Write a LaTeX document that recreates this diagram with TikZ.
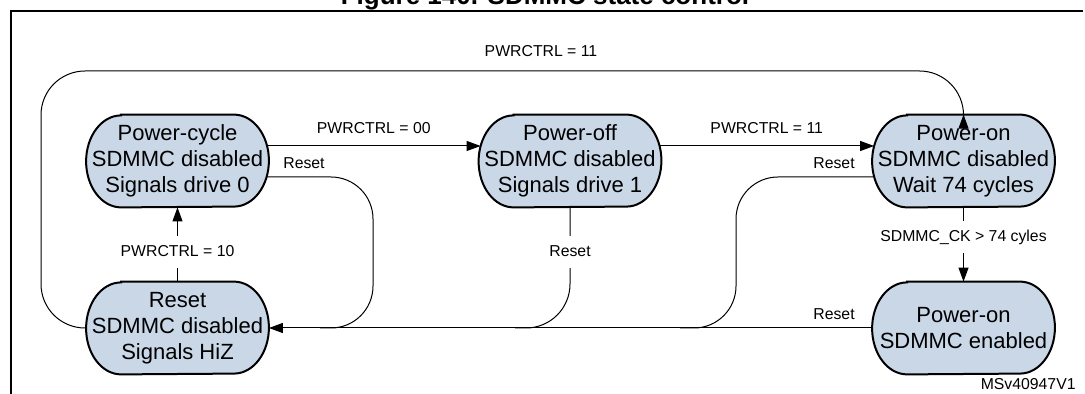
\documentclass[tikz,border=0pt]{standalone}
\usepackage{fontspec}
\setmainfont{Liberation Sans}
\usetikzlibrary{arrows.meta,backgrounds,calc}

\definecolor{statefill}{RGB}{201,215,231}

\tikzset{
  statebox/.style={minimum width=91pt, minimum height=46pt, inner sep=0pt,
    align=center, font=\fontsize{11}{13}\selectfont},
  stateline/.style={line width=1pt, fill=statefill},
  lbl/.style={font=\fontsize{7.9}{9}\selectfont, inner sep=1pt,
    text height=6pt, text depth=1.6pt},
  gaplbl/.style={lbl, fill=white, inner ysep=4pt},
  wire/.style={line width=0.5pt},
  trans/.style={wire, -{Triangle[length=7pt,width=5pt]}},
}

\begin{document}
\begin{tikzpicture}[x=0.5pt,y=-0.5pt]
\useasboundingbox (0,0) rectangle (1085,394);

% frame and caption
\draw[line width=1pt] (1083,11) -- (11,11) -- (11,394);
\node[anchor=base, font=\bfseries\fontsize{13}{15}\selectfont] (caption) at (545,5) {Figure 140. SDMMC state control};

% states
\node[statebox] (pcycle) at (177.5,161) {Power-cycle\\SDMMC disabled\\Signals drive 0};
\node[statebox] (poff) at (570,161) {Power-off\\SDMMC disabled\\Signals drive 1};
\node[statebox] (pon) at (963.5,161) {Power-on\\SDMMC disabled\\Wait 74 cycles};
\node[statebox] (rst) at (177.5,328) {Reset\\SDMMC disabled\\Signals HiZ};
\node[statebox] (pen) at (963.5,328) {Power-on\\SDMMC enabled};

\begin{scope}[on background layer]
\foreach \st in {pcycle,poff,pon,rst,pen}
  \draw[stateline] ($(\st.north west)+(35,0)$) -- ($(\st.north east)+(-35,0)$)
    arc[start angle=90, end angle=-90, x radius=17.5pt, y radius=23pt]
    -- ($(\st.south west)+(35,0)$)
    arc[start angle=270, end angle=90, x radius=17.5pt, y radius=23pt] -- cycle;
\end{scope}

% PWRCTRL transitions
\draw[trans, rounded corners=22pt] (rst.west) -- (41,328) -- (41,71) -- (963.5,71) [rounded corners=16pt] -- (pon.north);
\node[lbl] (l11top) at (541,52) {PWRCTRL = 11};
\draw[trans] ($(pcycle.east)+(-2,-15)$) -- node[lbl, above=3.2pt] (l00) {PWRCTRL = 00} ($(poff.west)+(2,-15)$);
\draw[trans] ($(poff.east)+(-2,-15)$) -- node[lbl, above=3.2pt] (l11) {PWRCTRL = 11} ($(pon.west)+(2,-15)$);
\draw[trans] (rst.north) -- node[gaplbl, pos=0.4] (l10) {PWRCTRL = 10} (pcycle.south);
\draw[trans] (pon.south) -- node[gaplbl, pos=0.4] (lck) {SDMMC\_CK > 74 cyles} (pen.north);

% reset transitions
\coordinate (j1) at (320,328);
\coordinate (j2) at (515,328);
\coordinate (j3) at (680,328);
\draw[trans] (pen.west) -- (rst.east);
\node[lbl] (rpen) at (834,315) {Reset};
\draw[wire, rounded corners=21pt] ($(pcycle.east)+(-2,16)$) -- (373,177) -- (373,328) -- (j1);
\node[lbl] (rpcycle) at (304,164) {Reset};
\draw[wire, rounded corners=22pt] (poff.south) -- (570,328) -- (j2);
\node[gaplbl] (rpoff) at (570,252) {Reset};
\draw[wire, rounded corners=21pt] ($(pon.west)+(2,16)$) -- (736,177) -- (736,328) -- (j3);
\node[lbl] (rpon) at (834,164) {Reset};

\node[lbl, anchor=east] (ref) at (1078,385) {MSv40947V1};
\end{tikzpicture}
\end{document}
